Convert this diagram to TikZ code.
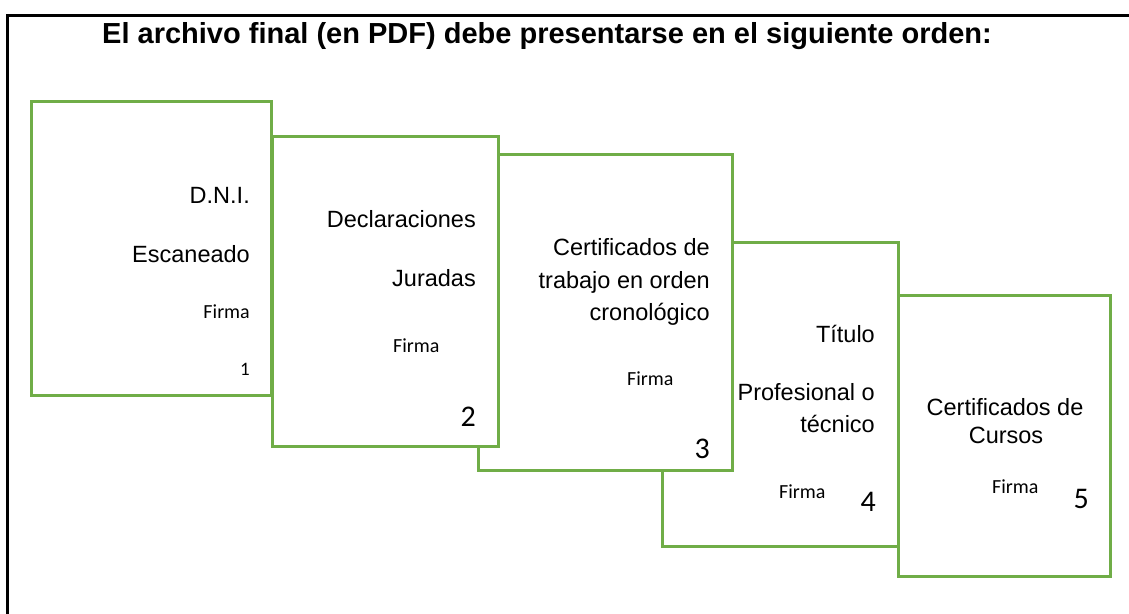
\documentclass[tikz,border=0pt]{standalone}
\usepackage{fontspec}
\setmainfont{Liberation Sans}
\newfontfamily\calib{Carlito}
\definecolor{pagegreen}{RGB}{112,173,71}
\tikzset{
  page/.style={draw=pagegreen, line width=3pt, fill=white, inner sep=0pt, rectangle},
  frameline/.style={draw=black, line width=3pt},
  big/.style={font=\fontsize{23.5}{28}\selectfont, inner sep=0pt},
  firma/.style={font=\calib\fontsize{20}{24}\selectfont, inner sep=0pt},
  num/.style={font=\calib\fontsize{30}{36}\selectfont, inner sep=0pt},
  numsmall/.style={font=\calib\fontsize{19}{23}\selectfont, inner sep=0pt},
}
\begin{document}
\begin{tikzpicture}[x=1pt,y=-1pt]
\useasboundingbox (0,0) rectangle (1129,613);
\coordinate (fb) at (7,615);
\coordinate (fc) at (7,15);
\coordinate (fr) at (1131,15);
\draw[frameline] (fb) -- (fc) -- (fr);
\node[font=\bfseries\fontsize{29}{35}\selectfont, inner sep=0pt, anchor=base] (title) at (547,43) {El archivo final (en PDF) debe presentarse en el siguiente orden:};
% pages, back to front
\node[page, minimum width=212pt, minimum height=281pt] (b5) at (1004,435.5) {};
\node[page, minimum width=236pt, minimum height=304pt] (b4) at (780,394) {};
\node[page, minimum width=254pt, minimum height=316pt] (b3) at (605,312) {};
\node[page, minimum width=226pt, minimum height=310pt] (b2) at (385,291) {};
\node[page, minimum width=240pt, minimum height=294pt] (b1) at (151,248) {};
% page 1
\node[big, anchor=base east] (t1a) at (250,203) {D.N.I.};
\node[big, anchor=base east] (t1b) at (250,262) {Escaneado};
\node[firma, anchor=base east] (f1) at (250,318) {Firma};
\node[numsmall, anchor=base east] (n1) at (250,375) {1};
% page 2
\node[big, anchor=base east] (t2a) at (476,227) {Declaraciones};
\node[big, anchor=base east] (t2b) at (476,286) {Juradas};
\node[firma, anchor=base west] (f2) at (393,352) {Firma};
\node[num, anchor=base east] (n2) at (476,426) {2};
% page 3
\node[big, anchor=base east] (t3a) at (710,255) {Certificados de};
\node[big, anchor=base east] (t3b) at (710,288) {trabajo en orden};
\node[big, anchor=base east] (t3c) at (710,320) {cronológico};
\node[firma, anchor=base west] (f3) at (627,385) {Firma};
\node[num, anchor=base east] (n3) at (710,458) {3};
% page 4
\node[big, anchor=base east] (t4a) at (875,342) {Título};
\node[big, anchor=base east] (t4b) at (875,400) {Profesional o};
\node[big, anchor=base east] (t4c) at (875,432) {técnico};
\node[firma, anchor=base west] (f4) at (779,498) {Firma};
\node[num, anchor=base east] (n4) at (876,511) {4};
% page 5
\node[big, anchor=base] (t5a) at (1005,415) {Certificados de};
\node[big, anchor=base] (t5b) at (1006,443) {Cursos};
\node[firma, anchor=base west] (f5) at (992,493) {Firma};
\node[num, anchor=base east] (n5) at (1089,508) {5};
\end{tikzpicture}
\end{document}
